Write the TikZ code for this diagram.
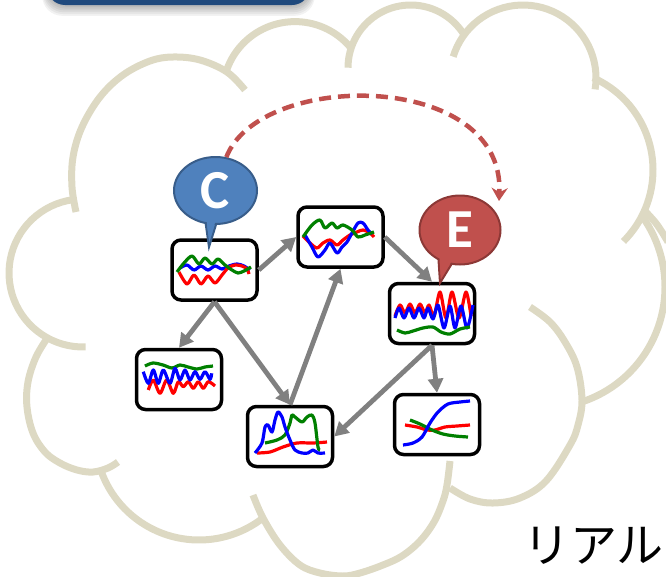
\documentclass[tikz,border=0pt]{standalone}
\usepackage{fontspec}
\setmainfont{Carlito}
\newfontfamily\jpfont{Noto Sans CJK JP}
\usetikzlibrary{arrows.meta,shapes.geometric}
\definecolor{cloudc}{HTML}{DDD9C3}
\definecolor{hdrblue}{HTML}{1F497D}
\definecolor{cblue}{HTML}{4F81BD}
\definecolor{cblueb}{HTML}{385D8A}
\definecolor{ered}{HTML}{C0504D}
\definecolor{eredb}{HTML}{8C3836}
\definecolor{agray}{HTML}{808080}
\definecolor{lgreen}{HTML}{008000}
\definecolor{lred}{HTML}{FF0000}
\definecolor{lblue}{HTML}{0000FF}
\tikzset{
  cloudarc/.style={draw=cloudc, line width=7pt},
  chartbox/.style={draw=black, line width=3.5pt, rounded corners=9pt, fill=white,
    minimum width=85pt, minimum height=60pt, inner sep=0pt},
  rl/.style={draw=lred, line width=3.2pt, line join=round},
  gl/.style={draw=lgreen, line width=3.2pt, line join=round},
  bl/.style={draw=lblue, line width=3.2pt, line join=round},
  garrow/.style={draw=agray, line width=4.8pt, -{Triangle[length=14pt,width=15pt]}},
  callC/.style={ellipse, fill=cblue, draw=cblueb, line width=2pt, minimum width=83pt,
    minimum height=67pt, inner sep=0pt, text=white, font=\bfseries\fontsize{55}{55}\selectfont},
  callE/.style={ellipse, fill=ered, draw=eredb, line width=2pt, minimum width=81pt,
    minimum height=69pt, inner sep=0pt, text=white, font=\bfseries\fontsize{55}{55}\selectfont},
  dasharrow/.style={draw=ered, line width=4.5pt, dash pattern=on 12pt off 7pt,
    -{Stealth[length=13pt,width=16pt]}}
}
\begin{document}
\begin{tikzpicture}[x=1pt, y=-1pt]
\useasboundingbox (0,0) rectangle (666,576);
\clip (0,0) rectangle (666,576);
% ---------- cloud outline ----------
\draw[cloudarc] plot[smooth, tension=0.6] coordinates {(76,212) (72,187) (73,157) (82,127) (100,97) (123,75) (150,61) (173,57) (200,60) (227,72) (245,90)};
\draw[cloudarc] plot[domain=200:322, samples=40, variable=\t] ({295+72.4*cos(\t)},{94+72.4*sin(\t)});
\draw[cloudarc] plot[domain=180:328, samples=40, variable=\t] ({410.7+62.7*cos(\t)},{67.7+62.7*sin(\t)});
\draw[cloudarc] plot[domain=197:369, samples=40, variable=\t] ({523+73*cos(\t)},{78+73*sin(\t)});
\draw[cloudarc] plot[domain=294:405, samples=40, variable=\t] ({552+101*cos(\t)},{170+101*sin(\t)});
\draw[cloudarc] plot[domain=-36:72, samples=40, variable=\t] ({544+121*cos(\t)},{287+121*sin(\t)});
\draw[cloudarc] plot[smooth, tension=0.6] coordinates {(645,211) (655,222) (662,232) (668,242)};
\draw[cloudarc] plot[smooth, tension=0.6] coordinates {(530,307) (550,322) (565,342) (577,367) (582,400) (578,425) (570,445) (546,481) (520,498) (493,503) (470,499) (450,488)};
\draw[cloudarc] plot[smooth, tension=0.6] coordinates {(450,461) (447,485) (443,501) (434,522) (420,541) (402,556) (383,565) (360,573) (343,576) (320,573) (300,565) (280,545) (263,518) (253,495)};
\draw[cloudarc] plot[domain=52:161, samples=40, variable=\t] ({199+104*cos(\t)},{436+104*sin(\t)});
\draw[cloudarc] plot[smooth, tension=0.6] coordinates {(48,337) (36,357) (28,382) (27,407) (33,433) (45,452) (60,463) (77,470) (93,472) (108,468) (118,462)};
\draw[cloudarc] plot[domain=88:262, samples=40, variable=\t] ({83+74*cos(\t)},{273+74*sin(\t)});
% ---------- header bar ----------
\foreach \k in {1,...,6}
  \fill[black, opacity=0.05, rounded corners=20pt] ({47-\k*0.8},-40) rectangle ({310+\k*0.8},{5+\k*1.8});
\node[fill=hdrblue, rounded corners=18pt, minimum width=263pt, minimum height=50pt, inner sep=0pt] (hdr) at (178.5,-20) {};
% ---------- chart boxes ----------
\node[chartbox] (b1) at (214.5,270) {};
\node[chartbox] (b2) at (340.5,237) {};
\node[chartbox] (b3) at (432,313.5) {};
\node[chartbox] (b4) at (179,379.5) {};
\node[chartbox] (b5) at (290,436.5) {};
\node[chartbox] (b6) at (437,424.5) {};
% box 1
\draw[bl] plot[smooth, tension=0.5] coordinates {(180,268) (187,265) (194,270) (201,266) (208,270) (215,266) (222,269) (229,266) (237,264) (244,266) (250,270)};
\draw[rl] plot[smooth, tension=0.5] coordinates {(179,272) (187,284) (194,275) (201,284) (208,276) (215,283) (222,275) (228,268) (235,265) (242,266) (247,269) (249,274)};
\draw[gl] plot[smooth, tension=0.5] coordinates {(177,272) (184,263) (192,256) (199,264) (205,258) (212,264) (218,259) (225,265) (232,270) (238,273) (244,271) (251,267)};
% box 2
\draw[rl] plot[smooth, tension=0.5] coordinates {(303,236) (310,243) (317,248) (323,243) (330,240) (337,245) (343,240) (350,235) (357,232) (363,230) (370,233) (374,237)};
\draw[bl] plot[smooth, tension=0.5] coordinates {(305,235) (312,247) (318,257) (325,250) (330,243) (337,253) (342,247) (347,242) (352,233) (358,223) (363,223) (368,230) (372,234)};
\draw[gl] plot[smooth, tension=0.5] coordinates {(303,237) (312,225) (320,220) (325,228) (332,223) (337,228) (343,225) (352,230) (358,237) (365,235) (374,232)};
% box 3
\draw[rl] plot[smooth, tension=0.5] coordinates {(395,316) (400,305) (405,313) (410,304) (415,313) (420,304) (425,313) (429,305) (434,316) (440,292) (446,318) (452,292) (459,318) (466,292) (471,316)};
\draw[bl] plot[smooth, tension=0.5] coordinates {(395,318) (399,308) (404,318) (409,308) (414,318) (419,308) (424,318) (428,308) (433,319) (438,305) (444,328) (450,306) (455,328) (461,306) (467,328) (473,305)};
\draw[gl] plot[smooth, tension=0.5] coordinates {(397,330) (405,333) (413,331) (423,328) (433,327) (441,332) (450,334) (460,329) (470,327)};
% box 4
\draw[gl] plot[smooth, tension=0.5] coordinates {(145,366) (153,363) (163,365) (172,368) (180,365) (188,367) (197,369) (205,367) (213,366)};
\draw[rl] plot[smooth, tension=0.5] coordinates {(148.3,390) (153.3,380) (160,393.3) (166.7,380) (173.3,393.3) (178.3,381.7) (183.3,386.7) (188.3,381.7) (193.3,388.3) (198.3,381.7) (203.3,388.3) (208.3,381.7) (215,386)};
\draw[bl] plot[smooth, tension=0.5] coordinates {(143.3,371.7) (148.3,383.3) (153.3,370) (158.3,383.3) (163.3,370) (170,383.3) (175,368.3) (180,380) (185,370) (190,380) (195,371.7) (200,379.3) (205,371.7) (210,379.3) (211.7,373.3)};
% box 5
\draw[rl] plot[smooth, tension=0.5] coordinates {(257,453) (270,452) (283,447) (297,443) (313,443) (327,442)};
\draw[gl] plot[smooth, tension=0.5] coordinates {(265,443) (277,440) (285,435) (290,423) (292,415) (295,417) (302,422) (307,417) (312,415) (315,423) (318,447) (320,450)};
\draw[bl] plot[smooth, tension=0.5] coordinates {(255,453) (262,443) (265,427) (268,425) (272,432) (275,420) (278,412) (282,417) (285,427) (290,440) (295,450) (302,453) (308,453) (313,450) (318,453) (325,453)};
% box 6
\draw[rl] plot[smooth, tension=0.5] coordinates {(405,425) (417,427) (427,430) (435,430) (445,427) (457,426) (470,425)};
\draw[gl] plot[smooth, tension=0.5] coordinates {(410,420) (420,424) (432,430) (443,434) (455,436) (468,437)};
\draw[bl] plot[smooth, tension=0.5] coordinates {(403,445) (413,443) (422,437) (430,423) (438,412) (448,404) (460,402) (470,401)};
% ---------- gray arrows ----------
\draw[garrow] (b1.east) -- (b2.west);
\draw[garrow] (b2.east) -- (b3.north);
\draw[garrow] (b1.south) -- (b4.north);
\draw[garrow] (b1.south) -- (b5.north);
\draw[garrow] (b5.north) -- (b2.south);
\draw[garrow] (b3.south) -- (b5.east);
\draw[garrow] (b3.south) -- (b6.north);
% ---------- callouts ----------
\filldraw[fill=cblue, draw=cblueb, line width=2pt] (204,212) -- (209,247) -- (220,212) -- cycle;
\node[callC] (cC) at (215.5,190.5) {C};
\fill[cblue] (205.6,212) -- (209.2,242) -- (218.3,212) -- cycle;
\filldraw[fill=ered, draw=eredb, line width=2pt] (438,252) -- (440,283) -- (459,252) -- cycle;
\node[callE] (cE) at (460,230) {E};
\fill[ered] (439.2,252) -- (440.8,279) -- (457.3,252) -- cycle;
% ---------- dashed arrow ----------
\coordinate (dend) at (499,201);
\draw[dasharrow] (cC.72) .. controls (260,70) and (505,70) .. (dend);
% ---------- text ----------
\node[font=\jpfont\fontsize{47}{47}\selectfont, anchor=base west, inner sep=0pt] (jp) at (523,562) {リアル};
\end{tikzpicture}
\end{document}
